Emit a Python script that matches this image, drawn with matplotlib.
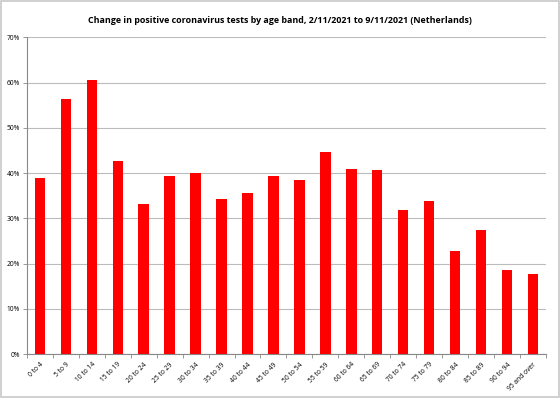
import matplotlib
matplotlib.use('Agg')
import matplotlib.pyplot as plt
from matplotlib.patches import Rectangle
from matplotlib.ticker import PercentFormatter
import numpy as np

# Faixas etarias e variacao percentual
faixas = ['0 to 4', '5 to 9', '10 to 14', '15 to 19', '20 to 24', '25 to 29',
          '30 to 34', '35 to 39', '40 to 44', '45 to 49', '50 to 54', '55 to 59',
          '60 to 64', '65 to 69', '70 to 74', '75 to 79', '80 to 84', '85 to 89',
          '90 to 94', '95 and over']
variacao = [38.9, 56.4, 60.5, 42.6, 33.2, 39.4, 40.0, 34.3, 35.7, 39.4,
            38.5, 44.7, 40.9, 40.7, 31.8, 33.8, 22.7, 27.5, 18.5, 17.8]
yticks = [0, 10, 20, 30, 40, 50, 60, 70]

plt.rcParams['font.family'] = ['Open Sans', 'DejaVu Sans']

fig = plt.figure(figsize=(5.6, 3.98), dpi=100)
ax = fig.add_axes([0.048, 0.110, 0.927, 0.796])

x = np.arange(len(faixas))
ax.bar(x, variacao, width=0.4, color='#ff0000', zorder=3)

ax.set_xlim(-0.5, len(faixas) - 0.5)
ax.set_ylim(0, 70)
ax.set_yticks(yticks)
ax.yaxis.set_major_formatter(PercentFormatter(decimals=0))
ax.grid(axis='y', color='#bcbcbc', linewidth=0.8, zorder=0)

ax.set_xticks(x)
ax.set_xticklabels(faixas, rotation=45, ha='right', rotation_mode='anchor', fontsize=4.8)
ax.set_xticks(np.arange(-0.5, len(faixas)), minor=True)
ax.tick_params(axis='x', which='major', length=0, pad=5)
ax.tick_params(axis='x', which='minor', length=3, color='#888888', width=0.6)
ax.tick_params(axis='y', labelsize=4.8, length=3, color='#888888', width=0.6, pad=2)

for lado in ['top', 'right']:
    ax.spines[lado].set_visible(False)
for lado in ['left', 'bottom']:
    ax.spines[lado].set_color('#888888')
    ax.spines[lado].set_linewidth(0.8)

fig.text(0.5, 0.948, 'Change in positive coronavirus tests by age band, 2/11/2021 to 9/11/2021 (Netherlands)',
         ha='center', va='center', fontsize=6.4, fontweight='bold')

# borda da area do grafico
fig.patches.append(Rectangle((0.002, 0.003), 0.996, 0.994, transform=fig.transFigure,
                             fill=False, edgecolor='#c8c8c8', linewidth=1.2))

plt.savefig('out.png', dpi=100)
